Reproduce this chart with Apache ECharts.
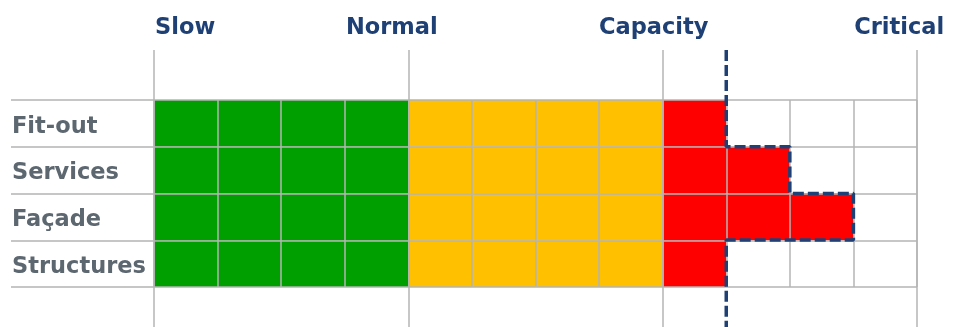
<!DOCTYPE html>
<html>
<head>
<meta charset="utf-8">
<script src="https://cdn.jsdelivr.net/npm/echarts@6/dist/echarts.min.js"></script>
<style>
  html, body { margin: 0; padding: 0; background: #ffffff; }
  #chart { width: 956px; height: 327px; }
</style>
</head>
<body>
<div id="chart"></div>
<script>
// Work stages, top to bottom
const categories = ['Fit-out', 'Services', 'Façade', 'Structures'];
// Units of activity in each zone per stage
const slowValues = [4, 4, 4, 4];
const normalValues = [4, 4, 4, 4];
const capacityValues = [1, 2, 3, 1];
// Zone names shown above the scale, and where each one sits on it
const zoneNames = ['Slow', 'Normal', 'Capacity', 'Critical'];
const zoneLabelAt = [0.49, 3.74, 7.86, 11.72];
const scaleMax = 12;

const GRID_LINE = '#b4b4b4';
const NAVY = '#1f4075';

// Stepped outline around the end of each stage's bar
const outline = (function () {
  const ends = categories.map((c, i) => slowValues[i] + normalValues[i] + capacityValues[i]);
  const pts = [[ends[0], -1.07]];
  ends.forEach((e, i) => { pts.push([e, i]); pts.push([e, i + 1]); });
  pts.push([ends[ends.length - 1], 4.86]);
  return pts;
})();

const chart = echarts.init(document.getElementById('chart'), null, { renderer: 'canvas' });

chart.setOption({
  animation: false,
  backgroundColor: '#ffffff',
  grid: [
    { left: 154, right: 39, top: 100, height: 187, containLabel: false },
    { left: 154, right: 39, top: 50, bottom: 0, containLabel: false }
  ],
  xAxis: [
    {
      gridIndex: 0, type: 'value', min: 0, max: scaleMax, interval: 1, z: 5,
      axisLine: { show: false }, axisTick: { show: false }, axisLabel: { show: false },
      splitLine: { show: true, lineStyle: { color: GRID_LINE, width: 1.5 } }
    },
    {
      gridIndex: 1, type: 'value', position: 'top', min: 0, max: scaleMax, interval: 4, z: 5,
      axisLine: { show: false }, axisTick: { show: false },
      splitLine: { show: true, lineStyle: { color: GRID_LINE, width: 1.5 } },
      axisLabel: {
        show: true,
        customValues: zoneLabelAt,
        margin: 10,
        color: NAVY,
        fontFamily: 'DejaVu Sans',
        fontWeight: 'bold',
        fontSize: 22.5,
        formatter: function (v) {
          const i = zoneLabelAt.findIndex(a => Math.abs(a - v) < 1e-6);
          return i >= 0 ? zoneNames[i] : '';
        }
      }
    }
  ],
  yAxis: [
    {
      gridIndex: 0, type: 'category', inverse: true, data: categories, z: 5,
      axisLine: { show: false },
      axisTick: { show: true, length: 143, lineStyle: { color: GRID_LINE, width: 1.5 } },
      splitLine: { show: true, lineStyle: { color: GRID_LINE, width: 1.5 } },
      axisLabel: {
        align: 'left', margin: 142,
        formatter: function (v) { return '{c|' + v + '}'; },
        rich: {
          c: {
            padding: [7, 0, 0, 0],
            color: '#5d6770',
            fontFamily: 'DejaVu Sans',
            fontWeight: 'bold',
            fontSize: 22.5
          }
        }
      }
    },
    {
      gridIndex: 1, type: 'value', inverse: true, min: -1.07, max: 4.86,
      show: false, splitLine: { show: false }
    }
  ],
  series: [
    {
      name: 'Slow', type: 'bar', stack: 'zone', xAxisIndex: 0, yAxisIndex: 0,
      data: slowValues, barWidth: '100%', itemStyle: { color: '#009f00' }
    },
    {
      name: 'Normal', type: 'bar', stack: 'zone', xAxisIndex: 0, yAxisIndex: 0,
      data: normalValues, barWidth: '100%', itemStyle: { color: '#ffc000' }
    },
    {
      name: 'Capacity', type: 'bar', stack: 'zone', xAxisIndex: 0, yAxisIndex: 0,
      data: capacityValues, barWidth: '100%', itemStyle: { color: '#ff0000' }
    },
    {
      name: 'Outline', type: 'line', xAxisIndex: 1, yAxisIndex: 1, z: 10,
      data: outline, symbol: 'none', clip: false,
      lineStyle: { color: NAVY, width: 3.5, type: [11, 4] }
    }
  ]
});
</script>
</body>
</html>
